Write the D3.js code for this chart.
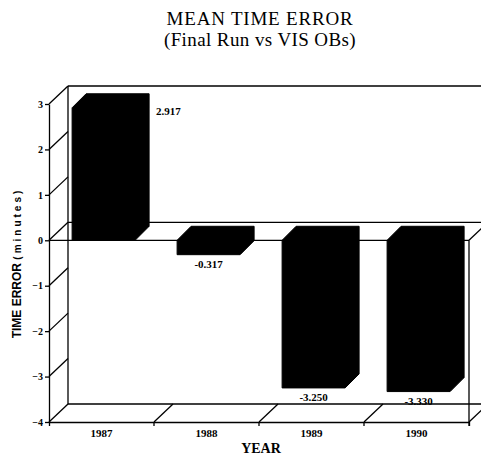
<!DOCTYPE html>
<html>
<head>
<meta charset="utf-8">
<script src="https://cdn.jsdelivr.net/npm/d3@7"></script>
<style>
  body { margin: 0; background: #fff; }
  svg { display: block; }
  .grid line { stroke: #000; stroke-width: 1.3; }
  .tick text { font-family: "Liberation Serif", serif; font-weight: bold; }
</style>
</head>
<body>
<div id="chart"></div>
<script>
var years = ["1987", "1988", "1989", "1990"];
var errors = [2.917, -0.317, -3.250, -3.330];
var errorLabels = ["2.917", "-0.317", "-3.250", "-3.330"];
var yTicks = [3, 2, 1, 0, -1, -2, -3, -4];

var width = 481, height = 455;
var DX = 19, DY = 18;   // depth of the box
var BD = 14;            // depth of each bar

var svg = d3.select("#chart").append("svg")
  .attr("width", width)
  .attr("height", height);

var x = d3.scaleBand().domain(years).range([49, 469]);
var y = d3.scaleLinear().domain([-4, 3]).range([422, 104]);

var xL = x.range()[0], xR = x.range()[1];
var yTop = y(3), yBot = y(-4), y0 = y(0);

// box lines
var grid = svg.append("g").attr("class", "grid");
function line(x1, y1, x2, y2) {
  grid.append("line").attr("x1", x1).attr("y1", y1).attr("x2", x2).attr("y2", y2);
}
line(xL + DX, yTop - DY, xL + DX, yBot - DY);
line(xL + DX, yTop - DY, xR + DX, yTop - DY);
line(xL + DX, yBot - DY, xR + DX, yBot - DY);
line(xL + DX, y0 - DY, xR + DX, y0 - DY);
line(xL, y0, xR, y0);
line(xR, y0, xR, yBot);
line(xR, y0, xR + DX, y0 - DY);
yTicks.forEach(function(t) {
  line(xL, y(t), xL + DX, y(t) - DY);
});
years.slice(1).concat(["end"]).forEach(function(yr) {
  var b = yr == "end" ? xR : x(yr);
  line(b, yBot, b + DX, yBot - DY);
  line(b, yBot, b, yBot + 4);
});

// axes
var yAxis = d3.axisLeft(y)
  .tickValues(yTicks)
  .tickFormat(d3.format("d"))
  .tickSize(4)
  .tickSizeOuter(0)
  .tickPadding(2);
var yg = svg.append("g")
  .attr("transform", "translate(" + xL + ",0)")
  .call(yAxis);
yg.selectAll("path, line").attr("stroke-width", 1.3);
yg.selectAll("text").style("font-size", "10px");

var xAxis = d3.axisBottom(x)
  .tickSize(0)
  .tickSizeOuter(4)
  .tickPadding(7);
var xg = svg.append("g")
  .attr("transform", "translate(0," + yBot + ")")
  .call(xAxis);
xg.selectAll("path").attr("stroke-width", 1.3);
xg.selectAll("text").style("font-size", "11px");

// bars as solid 3d blocks
var bw = x.bandwidth();
var bars = years.map(function(yr, i) {
  var x0 = x(yr) + 0.22 * bw, x1 = x0 + 0.6 * bw;
  var v = errors[i];
  var top = Math.min(y(v), y0), bot = Math.max(y(v), y0);
  return { x0: x0, x1: x1, top: top, bot: bot, v: v, label: errorLabels[i] };
});

svg.selectAll(".bar").data(bars).enter().append("path")
  .attr("class", "bar")
  .attr("fill", "#000")
  .attr("stroke", "#000")
  .attr("d", function(d) {
    return "M" + d.x0 + "," + d.bot +
      "L" + d.x0 + "," + d.top +
      "L" + (d.x0 + BD) + "," + (d.top - BD) +
      "L" + (d.x1 + BD) + "," + (d.top - BD) +
      "L" + (d.x1 + BD) + "," + (d.bot - BD) +
      "L" + d.x1 + "," + d.bot + "Z";
  });

svg.selectAll(".val").data(bars).enter().append("text")
  .attr("class", "val")
  .attr("x", d => d.v > 0 ? d.x1 + BD + 7 : (d.x0 + d.x1) / 2)
  .attr("y", d => d.v > 0 ? d.top - BD + 21 : d.bot + 13)
  .attr("text-anchor", d => d.v > 0 ? "start" : "middle")
  .style("font-family", "Liberation Serif, serif")
  .style("font-weight", "bold")
  .style("font-size", "11px")
  .text(d => d.label);

// titles
svg.append("text")
  .attr("x", 260).attr("y", 25)
  .attr("text-anchor", "middle")
  .style("font-family", "Liberation Serif, serif")
  .style("font-size", "19px")
  .style("letter-spacing", "0.8px")
  .text("MEAN TIME ERROR");
svg.append("text")
  .attr("x", 260).attr("y", 46)
  .attr("text-anchor", "middle")
  .style("font-family", "Liberation Serif, serif")
  .style("font-size", "19px")
  .style("letter-spacing", "0.4px")
  .text("(Final Run vs VIS OBs)");

svg.append("text")
  .attr("x", 261).attr("y", 453)
  .attr("text-anchor", "middle")
  .style("font-family", "Liberation Serif, serif")
  .style("font-weight", "bold")
  .style("font-size", "14px")
  .text("YEAR");

var yt = svg.append("text")
  .attr("transform", "translate(21,263) rotate(-90)")
  .attr("text-anchor", "middle");
yt.append("tspan")
  .style("font-family", "Liberation Sans, sans-serif")
  .style("font-weight", "bold")
  .style("font-size", "12px")
  .text("TIME ERROR ");
yt.append("tspan")
  .style("font-family", "Liberation Sans, sans-serif")
  .style("font-weight", "bold")
  .style("font-size", "10px")
  .style("letter-spacing", "3px")
  .text("(minutes)");
</script>
</body>
</html>
